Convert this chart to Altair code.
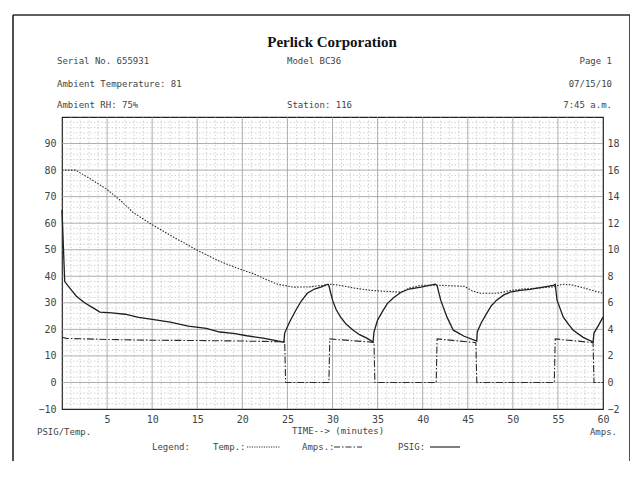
import altair as alt
import pandas as pd

# ---------------- data ----------------
psig_t = [0, 0.3, 1.0, 1.6, 2.5, 3.5, 4.2, 5.5, 7.0, 8.5, 10, 12, 14, 16, 17.5, 19, 20.5,
          22.3, 24.6, 24.7, 25.2, 25.9, 26.5, 27.2, 28.0, 28.7, 29.5, 29.6, 30.0, 30.4,
          30.9, 31.5, 32.3, 33.0, 33.8, 34.5, 34.6, 35.0, 35.5, 36.1, 36.8, 37.6, 38.5,
          39.8, 41.4, 41.6, 42.0, 42.7, 43.4, 44.6, 46.0, 46.05, 46.5, 47.1, 47.6, 48.2,
          49.0, 49.7, 50.8, 51.9, 53.2, 54.5, 54.7, 54.9, 55.6, 56.2, 56.7, 57.8, 58.9,
          59.0, 59.5, 60.0]
psig_v = [65, 38, 35, 32.5, 30, 28, 26.5, 26.2, 25.7, 24.5, 23.8, 22.7, 21.2, 20.4, 19, 18.5,
          17.6, 16.7, 15.2, 18.6, 22.5, 27, 30.5, 33.6, 35.2, 35.9, 37, 36.5, 31, 27.5,
          24.6, 22, 19.7, 18, 16.7, 15.2, 19, 23.5, 26.5, 29.8, 32, 34, 35.2,
          35.9, 37, 36.5, 31, 24.6, 19.7, 17.4, 15.6, 19, 22.5, 26, 28.8, 31,
          33, 34, 34.7, 35.1, 35.8, 36.6, 37, 31, 24.6, 21.8, 19.7, 17, 15.2,
          18.6, 21.5, 24.6]

temp_t = [0, 1.5, 3, 5, 6.5, 7.9, 10.1, 12.5, 15, 17.5, 19.5, 21.2, 22.5, 23.9, 25.7, 27.5,
          29.8, 31, 32.5, 34.2, 36, 37.6, 38.5, 39.8, 42, 44.6, 45.5, 46.4, 48.3, 49.5,
          51, 53, 54.5, 55.5, 56.5, 58, 59, 60]
temp_v = [80, 80, 77, 72.7, 68.5, 64, 59.2, 54.5, 49.8, 45.6, 43, 41, 39, 37, 35.9, 36,
          37, 36.5, 35.5, 34.7, 34.3, 34, 35.5, 36.6, 36.6, 36.2, 34.5, 33.6, 33.6, 34.5,
          35.2, 35.6, 36, 37, 36.8, 35.5, 34.5, 33.6]

amps_t = [0, 0.5, 5, 10, 15, 20, 24.7, 24.8, 29.6, 29.7, 34.6, 34.7, 41.5, 41.6, 45.9, 46.0,
          54.6, 54.7, 58.9, 59.0, 60]
amps_v = [3.4, 3.32, 3.24, 3.18, 3.16, 3.12, 3.06, 0, 0, 3.28, 3.02, 0, 0, 3.28, 3.0, 0,
          0, 3.28, 3.0, 0, 0]

x_ticks = list(range(5, 61, 5))
y_left_ticks = list(range(-10, 91, 10))
y_right_ticks = list(range(-2, 19, 2))

header = {
    "serial": "Serial No. 655931",
    "model": "Model BC36",
    "page": "Page 1",
    "ambient": "Ambient Temperature: 81",
    "date": "07/15/10",
    "rh": "Ambient RH: 75%",
    "station": "Station: 116",
    "time": "7:45 a.m.",
}

# ---------------- styling ----------------
MONO = "DejaVu Sans Mono"
INK = "#2b2b2b"
TXT = "#444444"

psig_df = pd.DataFrame({"t": psig_t, "v": psig_v, "i": range(len(psig_t))})
temp_df = pd.DataFrame({"t": temp_t, "v": temp_v, "i": range(len(temp_t))})
amps_df = pd.DataFrame({"t": amps_t, "v": amps_v, "i": range(len(amps_t))})

minor_x = pd.DataFrame({"t": [t for t in range(1, 60) if t % 5]})
major_x = pd.DataFrame({"t": list(range(5, 60, 5))})
minor_y = pd.DataFrame({"v": [v for v in range(-8, 100, 2) if v % 10]})
major_y = pd.DataFrame({"v": list(range(0, 100, 10))})
one = pd.DataFrame({"a": [0]})

xs = alt.Scale(domain=[0, 60], nice=False, zero=False)
yl = alt.Scale(domain=[-10, 100], nice=False, zero=False)
yr = alt.Scale(domain=[-2, 20], nice=False, zero=False)

x_axis = alt.Axis(values=x_ticks, title=None, grid=False, ticks=False, domain=False,
                  labelFont=MONO, labelFontSize=10, labelColor=TXT, labelPadding=5,
                  labelFlush=False)
yl_axis = alt.Axis(values=y_left_ticks, title=None, grid=False, ticks=False, domain=False,
                   labelFont=MONO, labelFontSize=10, labelColor=TXT, labelPadding=6,
                   labelFlush=False)
yr_axis = alt.Axis(values=y_right_ticks, title=None, grid=False, ticks=False, domain=False,
                   orient="right", labelFont=MONO, labelFontSize=10, labelColor=TXT,
                   labelPadding=4, labelFlush=False)

X = alt.X("t:Q", scale=xs, axis=x_axis)
YL = alt.Y("v:Q", scale=yl, axis=yl_axis)

g_minor_x = alt.Chart(minor_x).mark_rule(color="#b4b4b4", strokeWidth=0.6,
                                         strokeDash=[1.5, 2]).encode(x=X)
g_major_x = alt.Chart(major_x).mark_rule(color="#999999", strokeWidth=0.8).encode(x=X)
g_minor_y = alt.Chart(minor_y).mark_rule(color="#b4b4b4", strokeWidth=0.6,
                                         strokeDash=[1.5, 2]).encode(y=YL)
g_major_y = alt.Chart(major_y).mark_rule(color="#999999", strokeWidth=0.8).encode(y=YL)

temp_line = alt.Chart(temp_df).mark_line(color=INK, strokeWidth=1.1,
                                         strokeDash=[1.5, 1.5]).encode(
    x=X, y=YL, order="i:Q")
psig_line = alt.Chart(psig_df).mark_line(color="#1e1e1e", strokeWidth=1.3).encode(
    x=X, y=YL, order="i:Q")


def txt(s, x, y, align="left", size=9, font=MONO, weight="normal", color=TXT):
    return alt.Chart(one).mark_text(align=align, baseline="middle", fontSize=size,
                                    font=font, fontWeight=weight, color=color).encode(
        x=alt.value(x), y=alt.value(y), text=alt.value(s))


def seg(x1, x2, y, dash=None, w=1.0):
    kw = dict(color=INK, strokeWidth=w)
    if dash:
        kw["strokeDash"] = dash
    return alt.Chart(one).mark_rule(**kw).encode(
        x=alt.value(x1), x2=alt.value(x2), y=alt.value(y))


def vseg(x, y1, y2, w=1.6):
    return alt.Chart(one).mark_rule(color="#222", strokeWidth=w).encode(
        x=alt.value(x), y=alt.value(y1), y2=alt.value(y2))


texts = [
    txt("Perlick Corporation", 270, -75, align="center", size=15,
        font="Liberation Serif", weight="bold", color="#111"),
    txt(header["serial"], -5, -56),
    txt(header["model"], 225, -56),
    txt(header["page"], 550, -56, align="right"),
    txt(header["ambient"], -5, -33),
    txt(header["date"], 550, -33, align="right"),
    txt(header["rh"], -5, -12),
    txt(header["station"], 225, -12),
    txt(header["time"], 550, -12, align="right"),
    txt("PSIG/Temp.", -25, 315),
    txt("TIME--> (minutes)", 276, 314, align="center"),
    txt("Amps.", 555, 315, align="right"),
    txt("Legend:", 90, 330),
    txt("Temp.:", 151, 330),
    txt("Amps.:", 240, 330),
    txt("PSIG:", 336, 330),
    seg(185, 218, 330, dash=[1.2, 1.2], w=1.0),
    seg(272, 300, 330, dash=[6, 2, 1.5, 2], w=1.0),
    seg(368, 398, 330, w=1.2),
    # page frame
    seg(-49, 568, -102, w=1.6),
    vseg(-49, -102, 360),
    vseg(568, -102, 360),
]

left = alt.layer(g_minor_x, g_minor_y, g_major_x, g_major_y, temp_line, psig_line, *texts)

amps_line = alt.Chart(amps_df).mark_line(color=INK, strokeWidth=1.1,
                                         strokeDash=[7, 2, 1.5, 2]).encode(
    x=X, y=alt.Y("v:Q", scale=yr, axis=yr_axis), order="i:Q")

chart = alt.layer(left, amps_line).resolve_scale(y="independent").properties(
    width=541, height=292,
    padding={"left": 54, "top": 109, "right": 27, "bottom": 52},
    autosize=alt.AutoSizeParams(type="none"),
    background="white",
).configure_view(stroke="#222", strokeWidth=1.2)

chart.save("out.html", embed_options={"renderer": "svg", "actions": False})
